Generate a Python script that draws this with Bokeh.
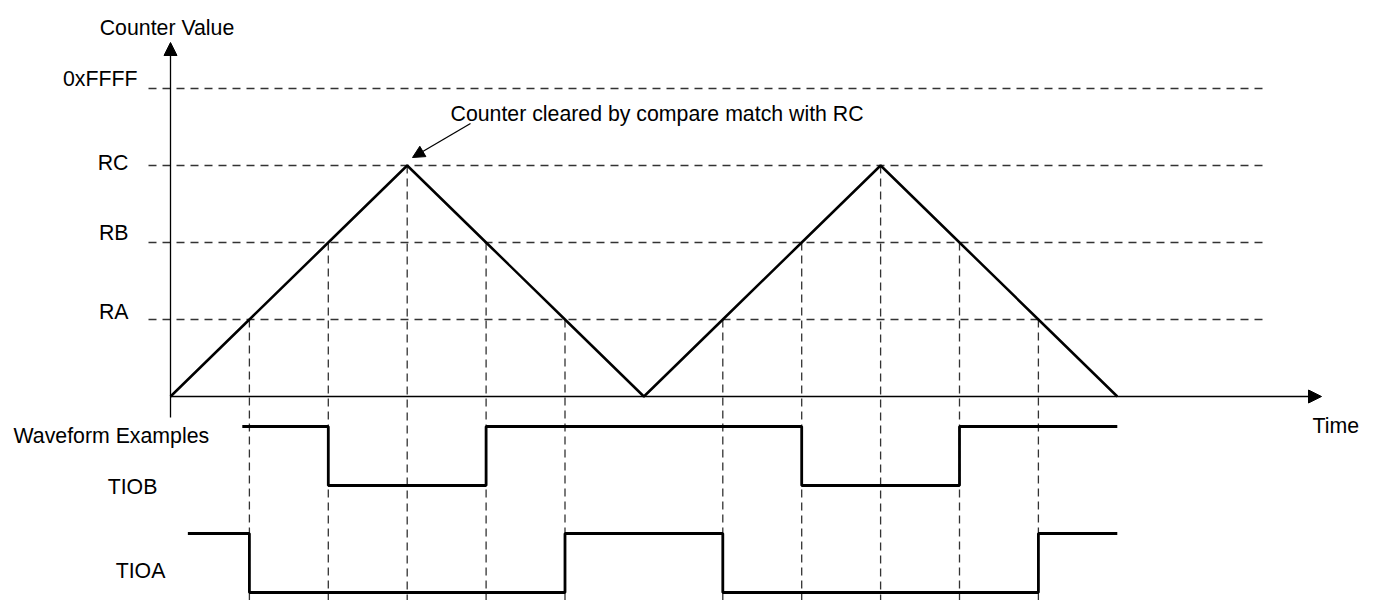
from bokeh.plotting import figure
from bokeh.models import Range1d, Arrow, NormalHead, ColumnDataSource
from bokeh.core.properties import value
from bokeh.embed import file_html
from bokeh.resources import INLINE

# ---------------- data ----------------
level_names = ["RA", "RB", "RC", "0xFFFF"]
level_values = [1, 2, 3, 4]

time_points = [0, 1, 2, 3, 4, 5, 6, 7, 8, 9, 10, 11, 12]
counter_values = [0, 1, 2, 3, 2, 1, 0, 1, 2, 3, 2, 1, 0]

# waveform examples: edge times and logic state of each segment
tiob_edges = [0.91, 2, 4, 8, 10, 12]
tiob_states = [1, 0, 1, 0, 1]
tioa_edges = [0.22, 1, 5, 7, 11, 12]
tioa_states = [1, 0, 1, 0, 1]

# ---------------- layout helpers (pixel -> data) ----------------
X0, SX = 170.0, 78.9   # image px of t=0, px per time unit
Y0, SY = 396.0, 77.0   # image px of v=0, px per count unit
W, H = 1359, 600
OX, OY = 0, 0          # canvas origin in the screenshot


def tx(px):
    return (px - X0) / SX


def vy(py):
    return (Y0 - py) / SY


p = figure(width=W, height=H, output_backend="svg", toolbar_location=None,
           x_range=Range1d(tx(OX), tx(OX + W)), y_range=Range1d(vy(OY + H), vy(OY)),
           min_border=0, outline_line_color=None)
p.axis.visible = False
p.grid.visible = False
p.background_fill_color = "white"
p.border_fill_color = "white"

FONT = value("Liberation Sans")
FS = "21.3px"
DASH_COL = "#333333"

# horizontal dashed reference levels
for lv in level_values:
    p.line([tx(148), tx(1262)], [lv, lv], line_color=DASH_COL, line_width=1.3,
           line_dash="8 6")

# vertical dashed lines from each level crossing / peak down through the waveforms
bottom_v = vy(620)
for t, c in zip(time_points, counter_values):
    if c > 0:
        p.line([t, t], [c, bottom_v], line_color=DASH_COL, line_width=1.3,
               line_dash="8 5")

# counter triangle
p.line(time_points, counter_values, line_color="black", line_width=2.5)


# waveforms
def step_xy(edges, states, hi, lo):
    xs, ys = [], []
    for i, s in enumerate(states):
        lvl = hi if s else lo
        xs += [edges[i], edges[i + 1]]
        ys += [lvl, lvl]
    return xs, ys


xb, yb = step_xy(tiob_edges, tiob_states, vy(426), vy(485))
p.line(xb, yb, line_color="black", line_width=2.8)
xa, ya = step_xy(tioa_edges, tioa_states, vy(533), vy(592))
p.line(xa, ya, line_color="black", line_width=2.8)

# axes with arrows
p.add_layout(Arrow(end=NormalHead(size=13, fill_color="black", line_color="black", line_width=1),
                   x_start=0, y_start=0, x_end=tx(1321), y_end=0,
                   line_color="black", line_width=1.3))
p.add_layout(Arrow(end=NormalHead(size=13, fill_color="black", line_color="black", line_width=1),
                   x_start=0, y_start=vy(417), x_end=0, y_end=vy(42),
                   line_color="black", line_width=1.3))

# annotation arrow
p.add_layout(Arrow(end=NormalHead(size=12, fill_color="black", line_color="black", line_width=1),
                   x_start=tx(470), y_start=vy(123), x_end=tx(412), y_end=vy(157),
                   line_color="black", line_width=1.3))

# texts
lbl_px = {"RA": (128, 311), "RB": (128, 232), "RC": (128, 162), "0xFFFF": (137, 78)}
src = ColumnDataSource(dict(
    x=[tx(lbl_px[n][0]) for n in level_names],
    y=[vy(lbl_px[n][1]) for n in level_names],
    text=level_names))
p.text(x="x", y="y", text="text", source=src, text_font=FONT, text_font_size=FS,
       text_align="right", text_baseline="alphabetic", text_color="black")


def label(px, py, txt, align="left"):
    p.text(x=[tx(px)], y=[vy(py)], text=[txt], text_font=FONT, text_font_size=FS,
           text_align=align, text_baseline="alphabetic", text_color="black")


label(166.5, 27, "Counter Value", "center")
label(13, 435, "Waveform Examples", "left")
label(132, 486, "TIOB", "center")
label(140, 570, "TIOA", "center")
label(1312, 425, "Time", "left")
label(450, 113, "Counter cleared by compare match with RC", "left")

open("out.html", "w").write(file_html(p, INLINE))
